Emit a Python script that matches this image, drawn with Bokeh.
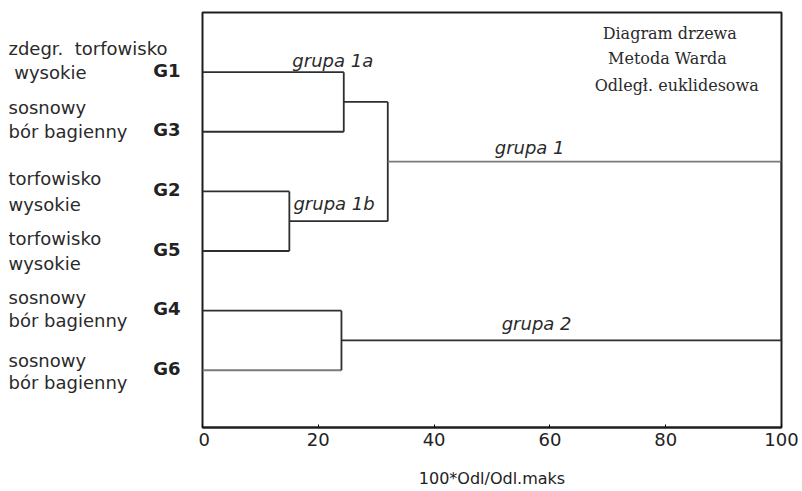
from bokeh.plotting import figure
from bokeh.layouts import row
from bokeh.models import Range1d, Label, FixedTicker, ColumnDataSource
from bokeh.core.properties import value
from bokeh.embed import file_html
from bokeh.resources import INLINE

# ---- data ----
leaf_names = ["G1", "G3", "G2", "G5", "G4", "G6"]
leaf_pos = [6, 5, 4, 3, 2, 1]
desc_line1 = ["zdegr.\u00a0 torfowisko", "sosnowy", "torfowisko", "torfowisko", "sosnowy", "sosnowy"]
desc_line2 = ["\u00a0wysokie", "bór bagienny", "wysokie", "wysokie", "bór bagienny", "bór bagienny"]
h_g1_g3 = 24.4   # grupa 1a
h_g2_g5 = 15.0   # grupa 1b
h_group1 = 32.0  # grupa 1
h_g4_g6 = 24.0   # grupa 2
h_root = 100.0
x_ticks = [0, 20, 40, 60, 80, 100]
group_names = ["grupa 1a", "grupa 1b", "grupa 1", "grupa 2"]
title_lines = ["Diagram drzewa", "Metoda Warda", "Odległ. euklidesowa"]
x_title = "100*Odl/Odl.maks"

# ---- build dendrogram segments from the data ----
pos = dict(zip(leaf_names, leaf_pos))
segs = []  # (x0, y0, x1, y1, light)
def leaf(name, h, light=False):
    segs.append((0, pos[name], h, pos[name], light))
leaf("G1", h_g1_g3); leaf("G3", h_g1_g3)
segs.append((h_g1_g3, pos["G3"], h_g1_g3, pos["G1"], False))
m1a = (pos["G1"] + pos["G3"]) / 2
leaf("G2", h_g2_g5); leaf("G5", h_g2_g5)
segs.append((h_g2_g5, pos["G5"], h_g2_g5, pos["G2"], False))
m1b = (pos["G2"] + pos["G5"]) / 2
segs.append((h_g1_g3, m1a, h_group1, m1a, False))
segs.append((h_g2_g5, m1b, h_group1, m1b, False))
segs.append((h_group1, m1b, h_group1, m1a, False))
m1 = (m1a + m1b) / 2
segs.append((h_group1, m1, h_root, m1, True))
leaf("G4", h_g4_g6); leaf("G6", h_g4_g6, True)
segs.append((h_g4_g6, pos["G6"], h_g4_g6, pos["G4"], False))
m2 = (pos["G4"] + pos["G6"]) / 2
segs.append((h_g4_g6, m2, h_root, m2, False))
segs.append((h_root, m2, h_root, m1, False))

src = ColumnDataSource(dict(
    x0=[s[0] for s in segs], y0=[s[1] for s in segs],
    x1=[s[2] for s in segs], y1=[s[3] for s in segs],
    color=["#7a7a7a" if s[4] else "#2e2e2e" for s in segs],
))

H = 491
TOP, BOTTOM = 12, 64
LEFT_W = 198
y_range = Range1d(0.04, 7.0)
px_per_unit = (H - TOP - BOTTOM) / (7.0 - 0.04)

# ---- left panel with descriptive texts and leaf codes ----
pl = figure(width=LEFT_W, height=H, output_backend="svg", toolbar_location=None,
            x_range=Range1d(0, LEFT_W), y_range=y_range,
            x_axis_type=None, y_axis_type=None,
            min_border_left=0, min_border_right=0, min_border_top=TOP, min_border_bottom=BOTTOM)
pl.outline_line_color = None
pl.grid.visible = False
off1 = [24, 24, 13, 13, 13, 10]
off2 = [0, 0, -13, -12, -10, -12]
tx, ty, tt = [], [], []
for y, t1, t2, o1, o2 in zip(leaf_pos, desc_line1, desc_line2, off1, off2):
    for t, o in ((t1, o1), (t2, o2)):
        tx.append(8)
        ty.append(y + o / px_per_unit)
        tt.append(t)
pl.text(x=tx, y=ty, text=tt, text_font=value("DejaVu Sans"), text_font_size="18px",
        text_color="#2a2a2a", text_baseline="middle", text_align="left")
pl.text(x=[180] * len(leaf_pos), y=[y + 2 / px_per_unit for y in leaf_pos], text=leaf_names,
        text_font=value("DejaVu Sans"), text_font_style="bold", text_font_size="18px",
        text_color="#222222", text_baseline="middle", text_align="right")

# ---- main dendrogram ----
p = figure(width=800 - LEFT_W, height=H, output_backend="svg", toolbar_location=None,
           x_range=Range1d(0, 100), y_range=y_range, y_axis_type=None,
           min_border_left=202 - LEFT_W, min_border_right=19, min_border_top=TOP, min_border_bottom=BOTTOM)
p.background_fill_color = "white"
p.border_fill_color = "white"
p.outline_line_color = "#1e1e1e"
p.outline_line_width = 2
p.grid.visible = False

p.segment("x0", "y0", "x1", "y1", source=src, line_color="color", line_width=1.8)

xa = p.xaxis[0]
xa.ticker = FixedTicker(ticks=x_ticks)
xa.minor_tick_line_color = None
xa.major_tick_in = 3
xa.major_tick_out = 0
xa.axis_line_color = "#1e1e1e"
xa.axis_line_width = 2
xa.major_label_text_font = "DejaVu Sans"
xa.major_label_text_font_size = "18px"
xa.major_label_text_color = "#222222"
xa.major_label_standoff = 5
xa.axis_label = x_title
xa.axis_label_text_font = "DejaVu Sans"
xa.axis_label_text_font_size = "16px"
xa.axis_label_text_font_style = "normal"
xa.axis_label_text_color = "#222222"
xa.axis_label_standoff = 20

gl_x = [22.5, 15.7, 56.5, 57.7]
gl_y = [6.19, 3.80, 4.73, 1.78]
gl_align = ["center", "left", "center", "center"]
for n, x, y, a in zip(group_names, gl_x, gl_y, gl_align):
    p.add_layout(Label(x=x, y=y, text=n, text_font="DejaVu Sans", text_font_style="italic",
                       text_font_size="18px", text_color="#2a2a2a",
                       text_baseline="middle", text_align=a))

tl_x = [80.7, 80.3, 81.9]
tl_y = [6.65, 6.23, 5.78]
for t, x, y in zip(title_lines, tl_x, tl_y):
    p.add_layout(Label(x=x, y=y, text=t, text_font="DejaVu Serif", text_font_size="16px",
                       text_color="#2a2a2a", text_baseline="middle", text_align="center"))

layout = row(pl, p)
open("out.html", "w").write(file_html(layout, INLINE))
